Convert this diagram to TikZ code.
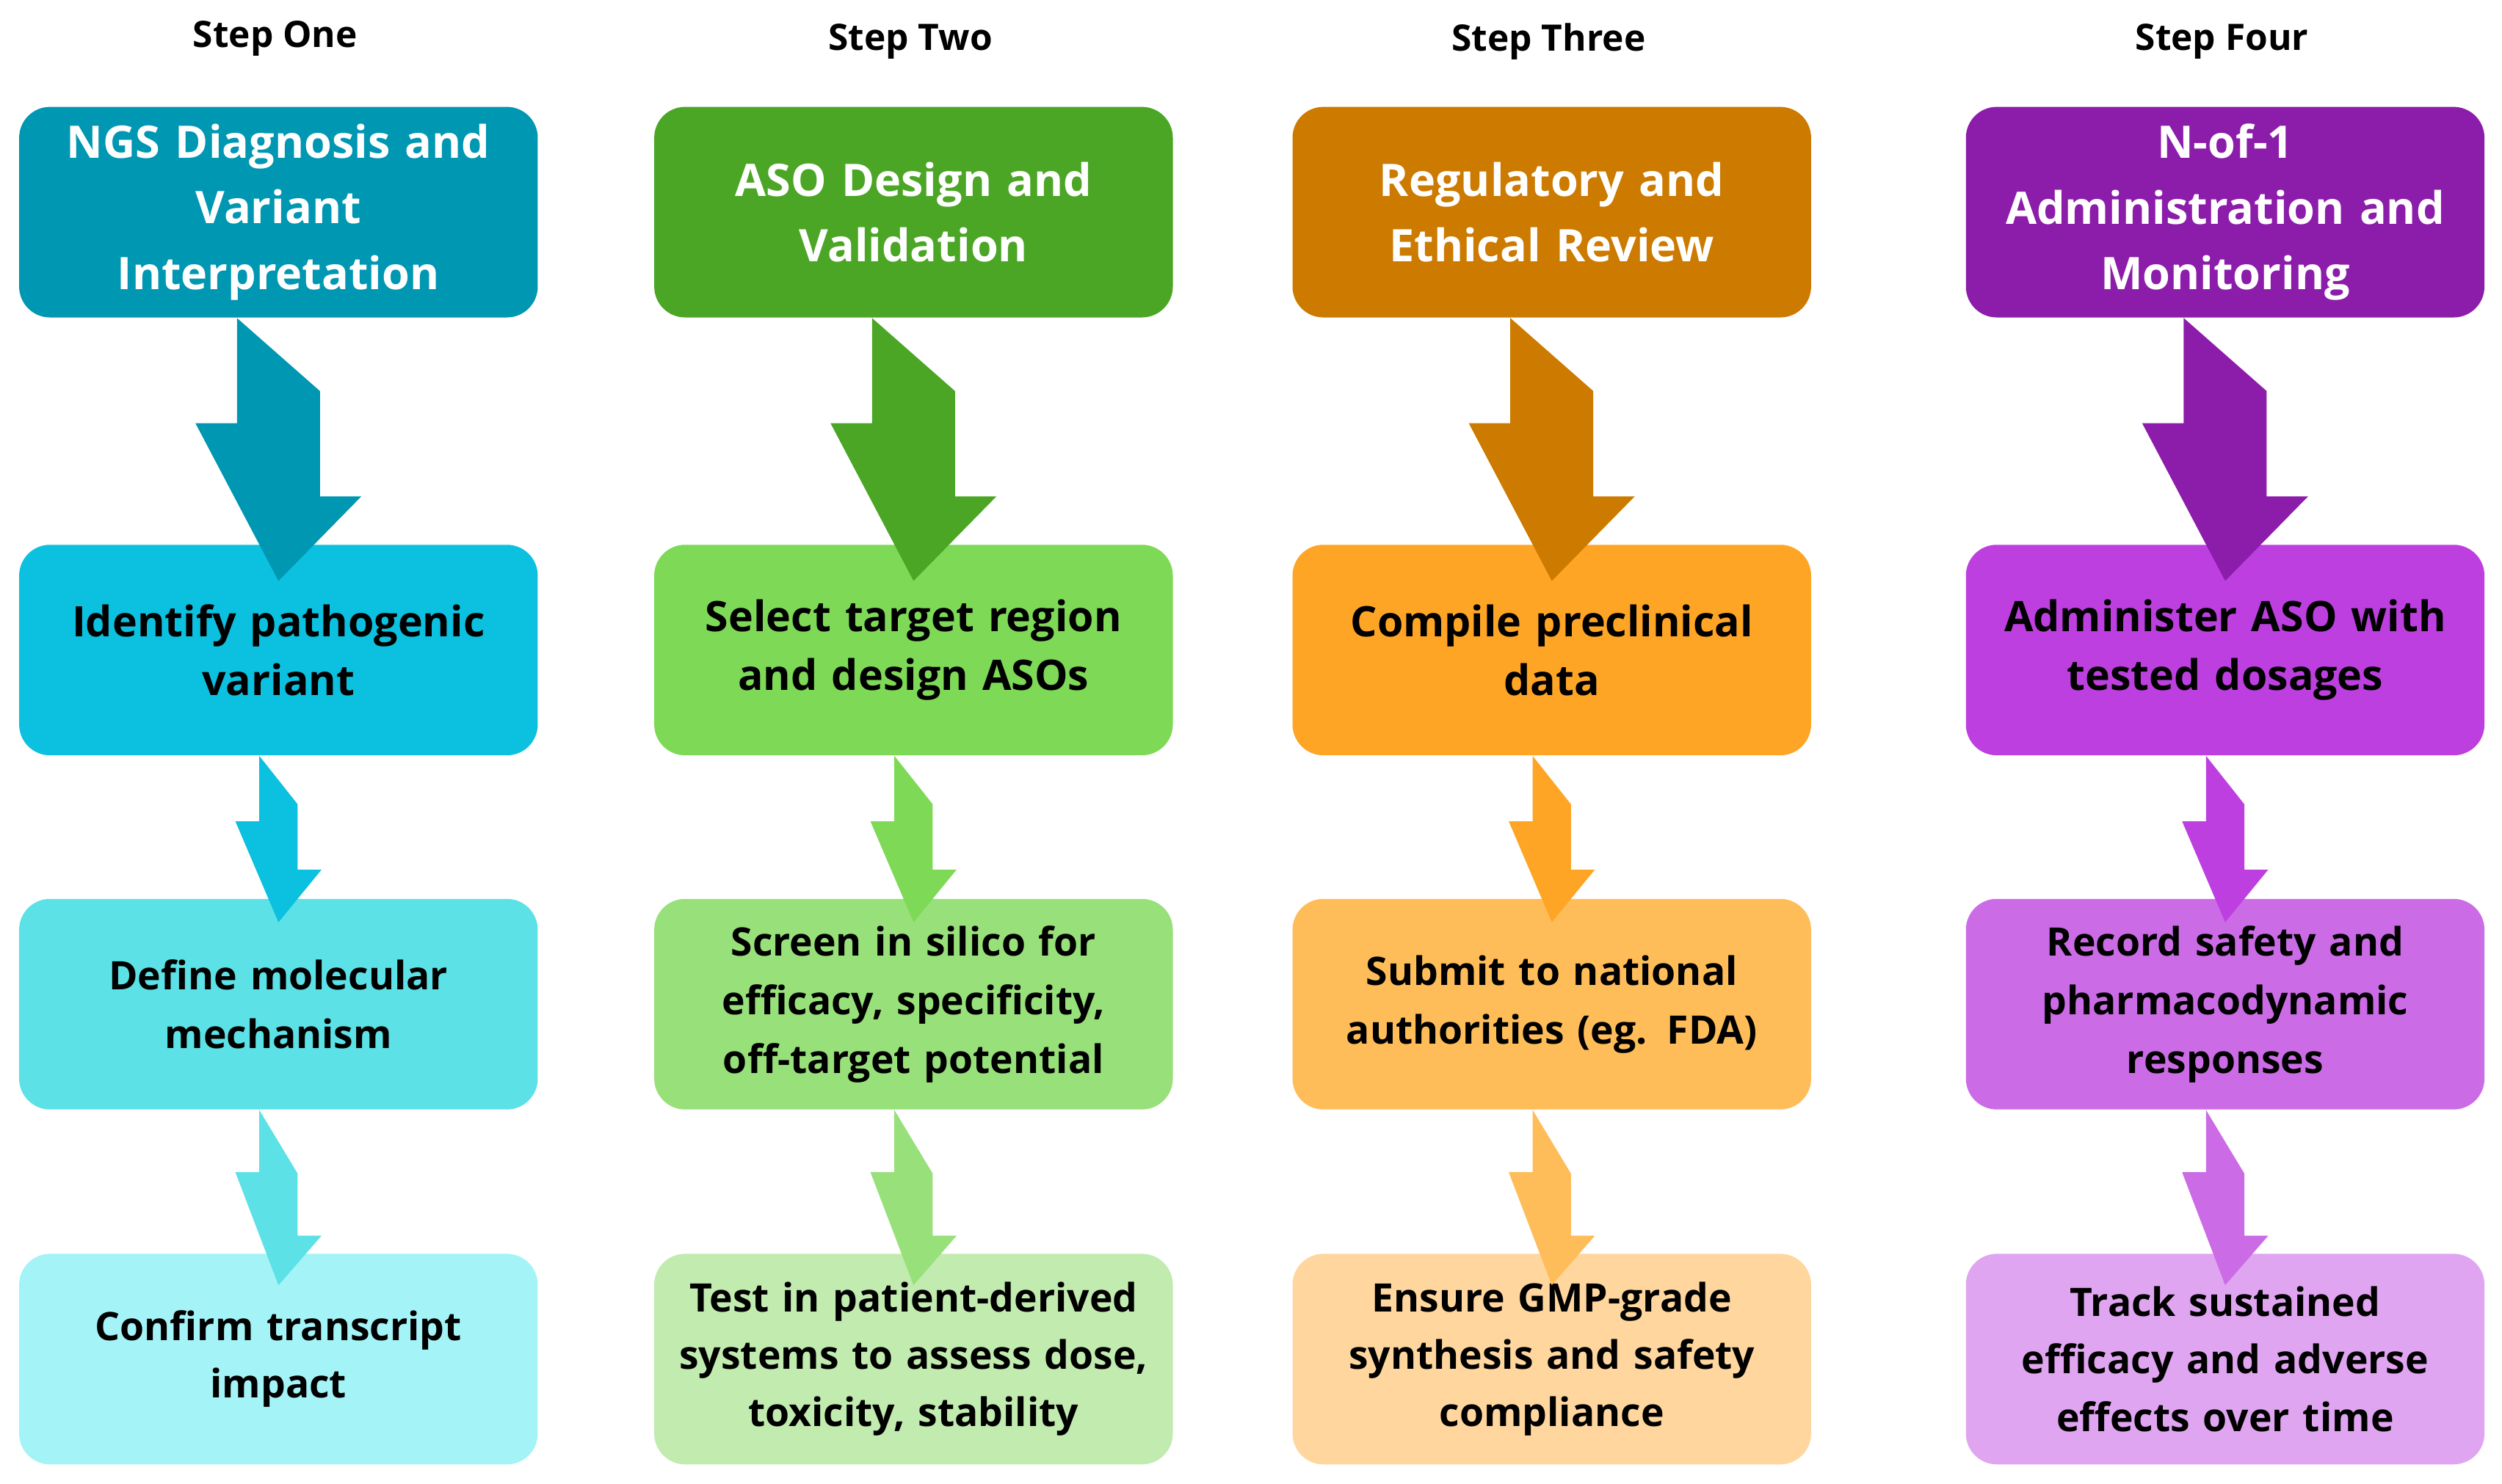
\documentclass[tikz,border=0pt]{standalone}
\usepackage{fontspec}
\setmainfont{Open Sans}
\begin{document}
\begin{tikzpicture}[x=0.02cm,y=-0.02cm,
 box/.style={rounded corners=11pt,minimum width=325*0.02cm,minimum height=132*0.02cm,inner sep=0pt,align=center,font=\bfseries\fontsize{15}{21}\selectfont,text width=300*0.02cm},
 hdr/.style={font=\bfseries\fontsize{13}{16}\selectfont}]
\useasboundingbox (0,0) rectangle (1568,930.3);
\definecolor{a1}{HTML}{0097B2}\definecolor{a2}{HTML}{0CC0DF}\definecolor{a3}{HTML}{5CE1E6}\definecolor{a4}{HTML}{A3F3F7}
\definecolor{b1}{HTML}{4CA626}\definecolor{b2}{HTML}{7ED957}\definecolor{b3}{HTML}{98E07A}\definecolor{b4}{HTML}{C1EBAF}
\definecolor{c1}{HTML}{CC7A00}\definecolor{c2}{HTML}{FFA526}\definecolor{c3}{HTML}{FFBD59}\definecolor{c4}{HTML}{FFD69E}
\definecolor{d1}{HTML}{8C1DAA}\definecolor{d2}{HTML}{BE3FE0}\definecolor{d3}{HTML}{CB6CE6}\definecolor{d4}{HTML}{E0A5F0}
\foreach \c/\x/\h/\hy/\tA/\tB/\tC/\tD [count=\i] in {
 a/174.5/Step One/24/{NGS Diagnosis and\\Variant\\Interpretation}/{Identify pathogenic\\variant}/{Define molecular\\mechanism}/{Confirm transcript\\impact},
 b/572.5/Step Two/26/{ASO Design and\\Validation}/{Select target region\\and design ASOs}/{Screen in silico for\\efficacy, specificity,\\off-target potential}/{Test in patient-derived\\systems to assess dose,\\toxicity, stability},
 c/972.5/Step Three/26/{Regulatory and\\Ethical Review}/{Compile preclinical\\data}/{Submit to national\\authorities (eg. FDA)}/{Ensure GMP-grade\\synthesis and safety\\compliance},
 d/1394.5/Step Four/26/{N-of-1\\Administration and\\Monitoring}/{Administer ASO with\\tested dosages}/{Record safety and\\pharmacodynamic\\responses}/{Track sustained\\efficacy and adverse\\effects over time}}{
 \node[hdr] (h\i) at (\x-2,\hy) {\h};
 \node[box,fill=\c1,text=white,font=\bfseries\fontsize{16}{23.5}\selectfont] (r1\i) at (\x,133) {\tA};
 \node[box,fill=\c2] (r2\i) at (\x,407.5) {\tB};
 \node[box,fill=\c3,font=\bfseries\fontsize{14}{21}\selectfont] (r3\i) at (\x,629.5) {\tC};
 \node[box,fill=\c4,font=\bfseries\fontsize{14}{20.5}\selectfont] (r4\i) at (\x,852) {\tD};
 \fill[\c1] ([xshift=-26*0.02cm]r1\i.south) -- ++(0,66) -- ++(-26,0) -- ([yshift=-23*0.02cm]r2\i.north) -- ++(52,-53) -- ++(-26,0) -- ++(0,-66) -- cycle;
 \fill[\c2] ([xshift=-12*0.02cm]r2\i.south) -- ++(0,41) -- ++(-15,0) -- ([yshift=-15*0.02cm]r3\i.north) -- ++(27,-33) -- ++(-15,0) -- ++(0,-41) -- cycle;
 \fill[\c3] ([xshift=-12*0.02cm]r3\i.south) -- ++(0,39) -- ++(-15,0) -- ([yshift=-20*0.02cm]r4\i.north) -- ++(27,-31) -- ++(-15,0) -- ++(0,-39) -- cycle;
}
\end{tikzpicture}
\end{document}
